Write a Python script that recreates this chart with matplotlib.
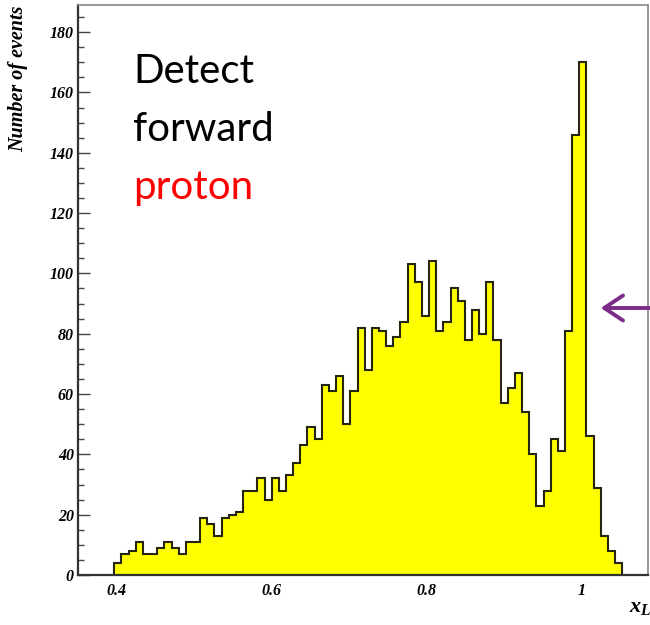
import numpy as np
import matplotlib
matplotlib.use("Agg")
import matplotlib.pyplot as plt
from matplotlib.ticker import FixedLocator, MultipleLocator

# ---- data ----
bin_width = 1.2 / 130
first_bin = 43
counts = [4, 7, 8, 11, 7, 7, 9, 11, 9, 7,
          11, 11, 19, 17, 13, 19, 20, 21, 28, 28,
          32, 25, 32, 28, 33, 37, 43, 49, 45, 63,
          61, 66, 50, 61, 82, 68, 82, 81, 76, 79,
          84, 103, 97, 86, 104, 81, 84, 95, 91, 78,
          88, 80, 97, 78, 57, 62, 67, 54, 40, 23,
          28, 45, 41, 81, 146, 170, 46, 29, 13, 8,
          4]
edges = (first_bin + np.arange(len(counts) + 1)) * bin_width
x_ticks = [0.4, 0.6, 0.8, 1.0]
x_tick_labels = ["0.4", "0.6", "0.8", "1"]
y_ticks = [0, 20, 40, 60, 80, 100, 120, 140, 160, 180]
y_tick_labels = [str(v) for v in y_ticks]
text_lines = ["Detect", "forward", "proton"]
text_colors = ["black", "black", "#ff0000"]

# ---- figure ----
W, H = 650, 625
fig = plt.figure(figsize=(W / 100, H / 100), dpi=100)
ax_left, ax_right, ax_top, ax_bot = 78, 648, 5, 575
ax = fig.add_axes([ax_left / W, 1 - ax_bot / H, (ax_right - ax_left) / W, (ax_bot - ax_top) / H])

x0, px_per_unit, x0_px = 0.4, 775.0, 116.7
ax.set_xlim(x0 + (ax_left - x0_px) / px_per_unit, x0 + (ax_right - x0_px) / px_per_unit)
ax.set_ylim(0, 189)

ax.stairs(counts, edges, fill=True, color="#ffff00", zorder=2)
ax.stairs(counts, edges, fill=False, color="#262610", linewidth=1.5, zorder=3)

serif_bi = dict(family="Liberation Serif", weight="bold", style="italic")

ax.xaxis.set_major_locator(FixedLocator(x_ticks))
ax.set_xticklabels(x_tick_labels, fontdict=dict(size=11.5, **serif_bi))
ax.yaxis.set_major_locator(FixedLocator(y_ticks))
ax.yaxis.set_minor_locator(MultipleLocator(5))
ax.set_yticklabels(y_tick_labels, fontdict=dict(size=11.5, **serif_bi))

ax.tick_params(axis="x", which="major", direction="in", length=8, width=1.0,
               color="#333333", pad=6, top=False)
ax.tick_params(axis="x", which="minor", bottom=False, top=False)
ax.tick_params(axis="y", which="major", direction="in", length=8.5, width=1.0,
               color="#444444", pad=3, right=False)
ax.tick_params(axis="y", which="minor", direction="in", length=4, width=1.0,
               color="#444444", right=False)

for side in ["left", "bottom"]:
    ax.spines[side].set_color("#333333")
    ax.spines[side].set_linewidth(1.6)
for side in ["top", "right"]:
    ax.spines[side].set_color("#888888")
    ax.spines[side].set_linewidth(1.2)
for s in ax.spines.values():
    s.set_zorder(4)

# axis titles
fig.text(18 / W, 1 - 5 / H, "Number of events", rotation=90, ha="center", va="top",
         fontsize=14.5, **serif_bi)
plt.rcParams["mathtext.fontset"] = "custom"
plt.rcParams["mathtext.it"] = "Liberation Serif:bold:italic"
plt.rcParams["mathtext.rm"] = "Liberation Serif:bold:italic"
fig.text(629 / W, 1 - 607 / H, r"$x_{L}$", ha="left", va="center", fontsize=16)

# annotation text
baselines = [83, 141, 199]
for t, c, b in zip(text_lines, text_colors, baselines):
    fig.text(133 / W, 1 - b / H, t, color=c, ha="left", va="baseline",
             fontsize=29, family="Lato")

# purple arrow
fig.patches.append(matplotlib.patches.FancyArrowPatch(
    (662 / W, 1 - 308 / H), (598 / W, 1 - 308 / H), transform=fig.transFigure,
    arrowstyle="->,head_length=9,head_width=6", color="#7b2c87", linewidth=2.8,
    mutation_scale=1.5))

fig.savefig("out.png", dpi=100)
